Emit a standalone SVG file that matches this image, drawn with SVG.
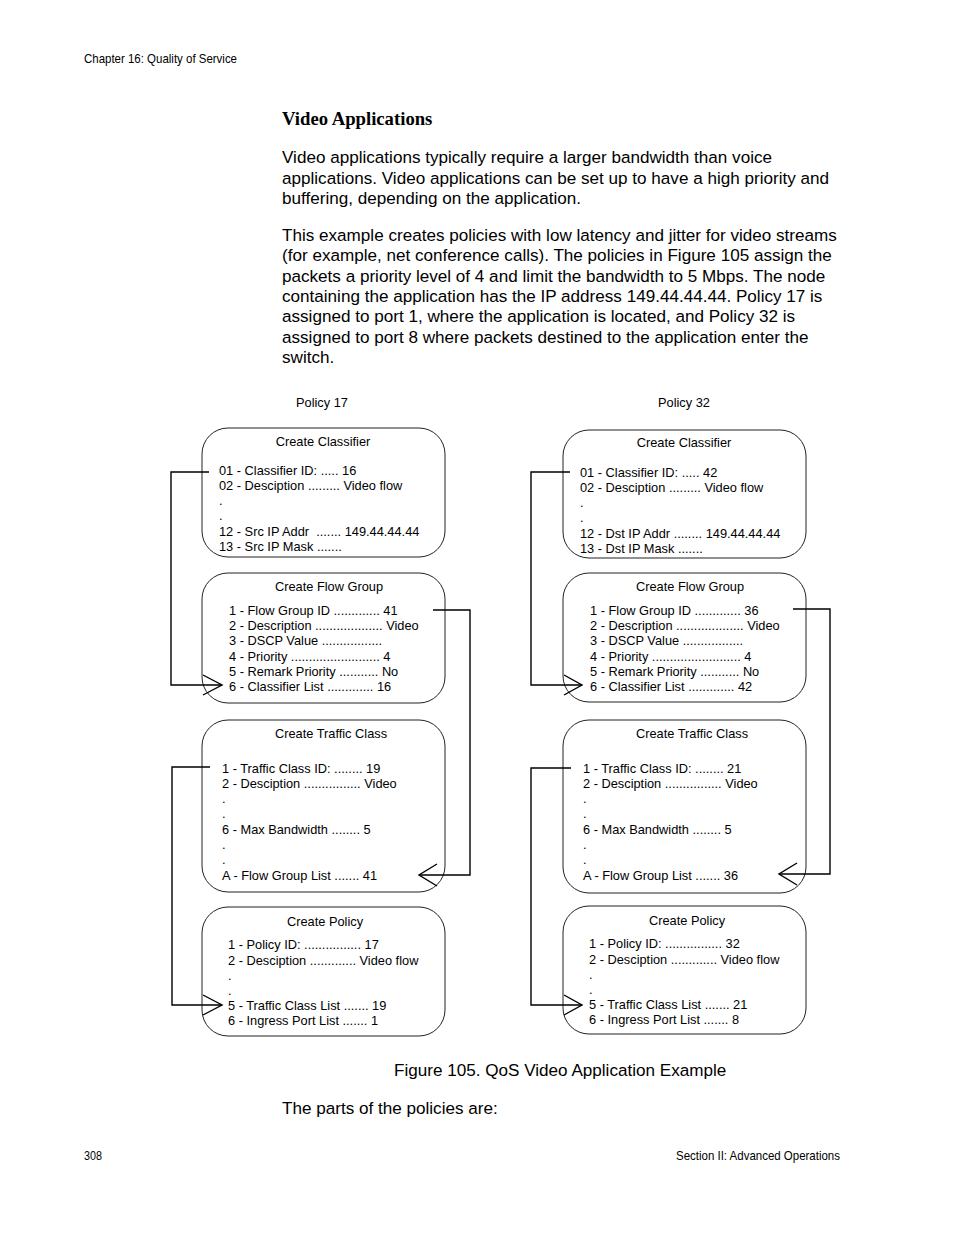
<svg xmlns="http://www.w3.org/2000/svg" width="954" height="1235" viewBox="0 0 954 1235">
<style>
.hdr{font-family:"Liberation Sans",Arial,sans-serif;font-size:13px;fill:#000}
.ttl{font-family:"Liberation Serif","Times New Roman",serif;font-size:18.7px;font-weight:bold;fill:#000}
.body{font-family:"Liberation Sans",Arial,sans-serif;font-size:17.1px;fill:#000}
.t{font-family:"Liberation Sans",Arial,sans-serif;font-size:12.8px;fill:#000;white-space:pre}
.c{text-anchor:middle}
.box{fill:#fff;stroke:#222;stroke-width:1}
.con{fill:none;stroke:#000;stroke-width:1.4}
</style>
<rect width="954" height="1235" fill="#fff"/>
<text class="hdr" x="84" y="63" textLength="153" lengthAdjust="spacingAndGlyphs">Chapter 16: Quality of Service</text>
<text class="ttl" x="282" y="125">Video Applications</text>
<g class="body">
<text x="282" y="163">Video applications typically require a larger bandwidth than voice</text>
<text x="282" y="184">applications. Video applications can be set up to have a high priority and</text>
<text x="282" y="204">buffering, depending on the application.</text>
<text x="282" y="241">This example creates policies with low latency and jitter for video streams</text>
<text x="282" y="261">(for example, net conference calls). The policies in Figure 105 assign the</text>
<text x="282" y="282">packets a priority level of 4 and limit the bandwidth to 5 Mbps. The node</text>
<text x="282" y="302">containing the application has the IP address 149.44.44.44. Policy 17 is</text>
<text x="282" y="322">assigned to port 1, where the application is located, and Policy 32 is</text>
<text x="282" y="343">assigned to port 8 where packets destined to the application enter the</text>
<text x="282" y="363">switch.</text>
</g>
<text class="t c" x="322" y="407">Policy 17</text>
<text class="t c" x="684" y="407">Policy 32</text>

<g id="p17-classifier">
<rect class="box" x="202" y="428" width="243" height="129" rx="26" ry="26"/>
<text class="t c" x="323" y="446">Create Classifier</text>
<text class="t" x="219" y="475">01 - Classifier ID: ..... 16</text>
<text class="t" x="219" y="490">02 - Desciption ......... Video flow</text>
<text class="t" x="219" y="505">.</text>
<text class="t" x="219" y="520">.</text>
<text class="t" x="219" y="536" xml:space="preserve">12 - Src IP Addr  ....... 149.44.44.44</text>
<text class="t" x="219" y="551">13 - Src IP Mask .......</text>
</g>
<g id="p17-flowgroup">
<rect class="box" x="202" y="573" width="243" height="130" rx="26" ry="26"/>
<text class="t c" x="329" y="591">Create Flow Group</text>
<text class="t" x="229" y="615">1 - Flow Group ID ............. 41</text>
<text class="t" x="229" y="630">2 - Description ................... Video</text>
<text class="t" x="229" y="645">3 - DSCP Value .................</text>
<text class="t" x="229" y="661">4 - Priority ......................... 4</text>
<text class="t" x="229" y="676">5 - Remark Priority ........... No</text>
<text class="t" x="229" y="691">6 - Classifier List ............. 16</text>
</g>
<g id="p17-trafficclass">
<rect class="box" x="202" y="720" width="243" height="172" rx="26" ry="26"/>
<text class="t c" x="331" y="738">Create Traffic Class</text>
<text class="t" x="222" y="773">1 - Traffic Class ID: ........ 19</text>
<text class="t" x="222" y="788">2 - Desciption ................ Video</text>
<text class="t" x="222" y="803">.</text>
<text class="t" x="222" y="818">.</text>
<text class="t" x="222" y="834">6 - Max Bandwidth ........ 5</text>
<text class="t" x="222" y="849">.</text>
<text class="t" x="222" y="864">.</text>
<text class="t" x="222" y="880">A - Flow Group List ....... 41</text>
</g>
<g id="p17-policy">
<rect class="box" x="202" y="907" width="243" height="129" rx="26" ry="26"/>
<text class="t c" x="325" y="926">Create Policy</text>
<text class="t" x="228" y="949">1 - Policy ID: ................ 17</text>
<text class="t" x="228" y="965">2 - Desciption ............. Video flow</text>
<text class="t" x="228" y="980">.</text>
<text class="t" x="228" y="995">.</text>
<text class="t" x="228" y="1010">5 - Traffic Class List ....... 19</text>
<text class="t" x="228" y="1025">6 - Ingress Port List ....... 1</text>
</g>

<g id="p32-classifier">
<rect class="box" x="563" y="430" width="243" height="128" rx="26" ry="26"/>
<text class="t c" x="684" y="447">Create Classifier</text>
<text class="t" x="580" y="477">01 - Classifier ID: ..... 42</text>
<text class="t" x="580" y="492">02 - Desciption ......... Video flow</text>
<text class="t" x="580" y="507">.</text>
<text class="t" x="580" y="522">.</text>
<text class="t" x="580" y="538">12 - Dst IP Addr ........ 149.44.44.44</text>
<text class="t" x="580" y="553">13 - Dst IP Mask .......</text>
</g>
<g id="p32-flowgroup">
<rect class="box" x="563" y="573" width="243" height="129" rx="26" ry="26"/>
<text class="t c" x="690" y="591">Create Flow Group</text>
<text class="t" x="590" y="615">1 - Flow Group ID ............. 36</text>
<text class="t" x="590" y="630">2 - Description ................... Video</text>
<text class="t" x="590" y="645">3 - DSCP Value .................</text>
<text class="t" x="590" y="661">4 - Priority ......................... 4</text>
<text class="t" x="590" y="676">5 - Remark Priority ........... No</text>
<text class="t" x="590" y="691">6 - Classifier List ............. 42</text>
</g>
<g id="p32-trafficclass">
<rect class="box" x="563" y="720" width="243" height="173" rx="26" ry="26"/>
<text class="t c" x="692" y="738">Create Traffic Class</text>
<text class="t" x="583" y="773">1 - Traffic Class ID: ........ 21</text>
<text class="t" x="583" y="788">2 - Desciption ................ Video</text>
<text class="t" x="583" y="803">.</text>
<text class="t" x="583" y="818">.</text>
<text class="t" x="583" y="834">6 - Max Bandwidth ........ 5</text>
<text class="t" x="583" y="849">.</text>
<text class="t" x="583" y="864">.</text>
<text class="t" x="583" y="880">A - Flow Group List ....... 36</text>
</g>
<g id="p32-policy">
<rect class="box" x="563" y="906" width="243" height="128" rx="26" ry="26"/>
<text class="t c" x="687" y="925">Create Policy</text>
<text class="t" x="589" y="948">1 - Policy ID: ................ 32</text>
<text class="t" x="589" y="964">2 - Desciption ............. Video flow</text>
<text class="t" x="589" y="979">.</text>
<text class="t" x="589" y="994">.</text>
<text class="t" x="589" y="1009">5 - Traffic Class List ....... 21</text>
<text class="t" x="589" y="1024">6 - Ingress Port List ....... 8</text>
</g>

<g id="connectors" class="con">
<polyline points="209,472 171,472 171,685 222,685"/>
<polyline points="203,675 222,685 203,695"/>
<polyline points="433,610 470,610 470,875 419,875"/>
<polyline points="437,864 419,875 437,886"/>
<polyline points="210,767 172,767 172,1005 222,1005"/>
<polyline points="203,995 222,1005 203,1015"/>
<polyline points="570,472 531,472 531,685 582,685"/>
<polyline points="564,675 582,685 564,695"/>
<polyline points="793,609 830,609 830,874 779,874"/>
<polyline points="797,863 779,874 797,885"/>
<polyline points="571,768 531,768 531,1005 582,1005"/>
<polyline points="564,995 582,1005 564,1015"/>
</g>

<text class="body" x="394" y="1076">Figure 105. QoS Video Application Example</text>
<text class="body" x="282" y="1114">The parts of the policies are:</text>
<text class="hdr" x="84" y="1160" textLength="18" lengthAdjust="spacingAndGlyphs">308</text>
<text class="hdr" x="676" y="1160" textLength="164" lengthAdjust="spacingAndGlyphs">Section II: Advanced Operations</text>
</svg>
